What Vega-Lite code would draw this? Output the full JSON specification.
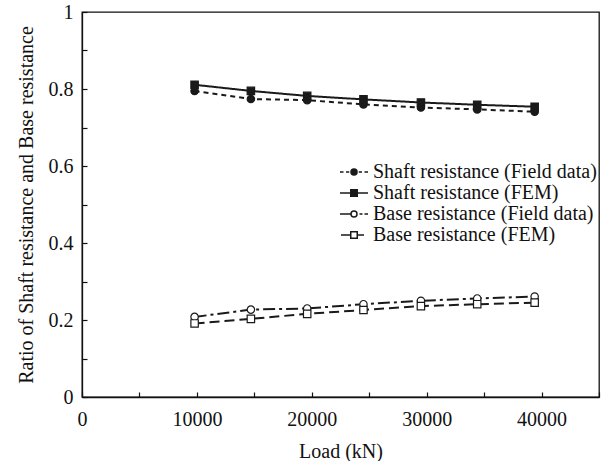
{
  "$schema": "https://vega.github.io/schema/vega-lite/v6.json",
  "width": 517,
  "height": 385,
  "autosize": {"type": "none"},
  "padding": {"left": 82, "top": 12, "right": 4, "bottom": 64},
  "background": "white",
  "config": {
    "font": "Liberation Serif",
    "view": {"stroke": "#111", "strokeWidth": 1.3},
    "text": {"font": "Liberation Serif"},
    "axis": {
      "grid": false,
      "domainColor": "#111",
      "domainWidth": 1.3,
      "tickColor": "#111",
      "tickWidth": 1.2,
      "tickSize": -5,
      "labelColor": "#111",
      "labelFont": "Liberation Serif",
      "labelFontSize": 20,
      "titleFont": "Liberation Serif",
      "titleFontSize": 20,
      "titleFontWeight": "normal",
      "titleColor": "#111",
      "labelFlush": false,
      "labelOverlap": false
    },
    "legend": {
      "labelFont": "Liberation Serif"
    }
  },
  "data": {
    "values": [
      {"load": 9800, "ratio": 0.795, "series": "Shaft resistance (Field data)"},
      {"load": 14700, "ratio": 0.774, "series": "Shaft resistance (Field data)"},
      {"load": 19600, "ratio": 0.771, "series": "Shaft resistance (Field data)"},
      {"load": 24500, "ratio": 0.760, "series": "Shaft resistance (Field data)"},
      {"load": 29500, "ratio": 0.752, "series": "Shaft resistance (Field data)"},
      {"load": 34400, "ratio": 0.747, "series": "Shaft resistance (Field data)"},
      {"load": 39400, "ratio": 0.741, "series": "Shaft resistance (Field data)"},
      {"load": 9800, "ratio": 0.811, "series": "Shaft resistance (FEM)"},
      {"load": 14700, "ratio": 0.795, "series": "Shaft resistance (FEM)"},
      {"load": 19600, "ratio": 0.782, "series": "Shaft resistance (FEM)"},
      {"load": 24500, "ratio": 0.773, "series": "Shaft resistance (FEM)"},
      {"load": 29500, "ratio": 0.765, "series": "Shaft resistance (FEM)"},
      {"load": 34400, "ratio": 0.759, "series": "Shaft resistance (FEM)"},
      {"load": 39400, "ratio": 0.754, "series": "Shaft resistance (FEM)"},
      {"load": 9800, "ratio": 0.208, "series": "Base resistance (Field data)"},
      {"load": 14700, "ratio": 0.227, "series": "Base resistance (Field data)"},
      {"load": 19600, "ratio": 0.230, "series": "Base resistance (Field data)"},
      {"load": 24500, "ratio": 0.241, "series": "Base resistance (Field data)"},
      {"load": 29500, "ratio": 0.250, "series": "Base resistance (Field data)"},
      {"load": 34400, "ratio": 0.256, "series": "Base resistance (Field data)"},
      {"load": 39400, "ratio": 0.261, "series": "Base resistance (Field data)"},
      {"load": 9800, "ratio": 0.191, "series": "Base resistance (FEM)"},
      {"load": 14700, "ratio": 0.203, "series": "Base resistance (FEM)"},
      {"load": 19600, "ratio": 0.216, "series": "Base resistance (FEM)"},
      {"load": 24500, "ratio": 0.226, "series": "Base resistance (FEM)"},
      {"load": 29500, "ratio": 0.236, "series": "Base resistance (FEM)"},
      {"load": 34400, "ratio": 0.241, "series": "Base resistance (FEM)"},
      {"load": 39400, "ratio": 0.245, "series": "Base resistance (FEM)"}
    ]
  },
  "encoding": {
    "x": {
      "field": "load",
      "type": "quantitative",
      "scale": {"domain": [0, 45000], "nice": false},
      "axis": {
        "title": "Load (kN)",
        "values": [0, 5000, 10000, 15000, 20000, 25000, 30000, 35000, 40000, 45000],
        "labelExpr": "datum.value % 10000 == 0 ? format(datum.value, 'd') : ''",
        "labelPadding": 17,
        "titlePadding": 12
      }
    },
    "y": {
      "field": "ratio",
      "type": "quantitative",
      "scale": {"domain": [0, 1], "nice": false},
      "axis": {
        "title": "Ratio of Shaft resistance and Base resistance",
        "values": [0, 0.1, 0.2, 0.3, 0.4, 0.5, 0.6, 0.7, 0.8, 0.9, 1],
        "labelExpr": "round(datum.value * 10) % 2 == 0 ? format(datum.value, '~g') : ''",
        "labelPadding": 14,
        "titlePadding": 12
      }
    }
  },
  "layer": [
    {
      "mark": {"type": "line", "strokeWidth": 2, "color": "#1a1a1a"},
      "encoding": {
        "strokeDash": {
          "field": "series",
          "type": "nominal",
          "scale": {
            "domain": ["Shaft resistance (Field data)", "Shaft resistance (FEM)", "Base resistance (Field data)", "Base resistance (FEM)"],
            "range": [[5, 4], [1, 0], [12, 4, 3, 4], [10, 5]]
          },
          "legend": null
        }
      }
    },
    {
      "mark": {"type": "point", "strokeWidth": 1.2, "stroke": "#1a1a1a", "size": 55, "opacity": 1},
      "encoding": {
        "shape": {
          "field": "series",
          "type": "nominal",
          "scale": {
            "domain": ["Shaft resistance (Field data)", "Shaft resistance (FEM)", "Base resistance (Field data)", "Base resistance (FEM)"],
            "range": ["circle", "square", "circle", "square"]
          },
          "legend": null
        },
        "fill": {
          "field": "series",
          "type": "nominal",
          "scale": {
            "domain": ["Shaft resistance (Field data)", "Shaft resistance (FEM)", "Base resistance (Field data)", "Base resistance (FEM)"],
            "range": ["#1a1a1a", "#1a1a1a", "white", "white"]
          },
          "legend": null
        }
      }
    },
    {
      "mark": {"type": "point", "opacity": 0, "stroke": "#1a1a1a"},
      "encoding": {
        "shape": {
          "field": "series",
          "type": "nominal",
          "scale": {
            "domain": ["Shaft resistance (Field data)", "Shaft resistance (FEM)", "Base resistance (Field data)", "Base resistance (FEM)"],
            "range": [
              "M-2.8,0L-2.1,0M-1.6,0L-0.95,0M0.95,0L1.6,0M2.1,0L2.8,0M0.6,0A0.6,0.6,0,1,1,-0.6,0A0.6,0.6,0,1,1,0.6,0Z",
              "M-2.8,0L2.8,0M-0.65,-0.65L0.65,-0.65L0.65,0.65L-0.65,0.65Z",
              "M-2.8,0L-0.6,0M1.1,0L1.7,0M2.1,0L2.8,0M0.6,0A0.6,0.6,0,1,1,-0.6,0A0.6,0.6,0,1,1,0.6,0Z",
              "M-2.6,0L-0.65,0M0.65,0L2.0,0M-0.65,-0.65L0.65,-0.65L0.65,0.65L-0.65,0.65Z"
            ]
          },
          "legend": {
            "title": null,
            "orient": "none",
            "legendX": 262,
            "legendY": 150,
            "padding": 0,
            "symbolSize": 100,
            "symbolStrokeColor": "#1a1a1a",
            "symbolStrokeWidth": 1.5,
            "labelFont": "Liberation Serif",
            "labelFontSize": 20,
            "labelColor": "#111",
            "labelOffset": 9,
            "rowPadding": 1,
            "labelLimit": 400,
            "symbolOpacity": 1,
            "encode": {"symbols": {"update": {"opacity": {"value": 1}, "stroke": {"value": "#1a1a1a"}}}}
          }
        },
        "fill": {
          "field": "series",
          "type": "nominal",
          "scale": {
            "domain": ["Shaft resistance (Field data)", "Shaft resistance (FEM)", "Base resistance (Field data)", "Base resistance (FEM)"],
            "range": ["#1a1a1a", "#1a1a1a", "white", "white"]
          },
          "legend": {
            "title": null,
            "orient": "none",
            "legendX": 262,
            "legendY": 150,
            "padding": 0,
            "symbolSize": 100,
            "symbolStrokeColor": "#1a1a1a",
            "symbolStrokeWidth": 1.5,
            "labelFont": "Liberation Serif",
            "labelFontSize": 20,
            "labelColor": "#111",
            "labelOffset": 9,
            "rowPadding": 1,
            "labelLimit": 400,
            "symbolOpacity": 1,
            "encode": {"symbols": {"update": {"opacity": {"value": 1}, "stroke": {"value": "#1a1a1a"}}}}
          }
        }
      }
    }
  ],
  "resolve": {"scale": {"shape": "independent", "fill": "independent"}}
}
